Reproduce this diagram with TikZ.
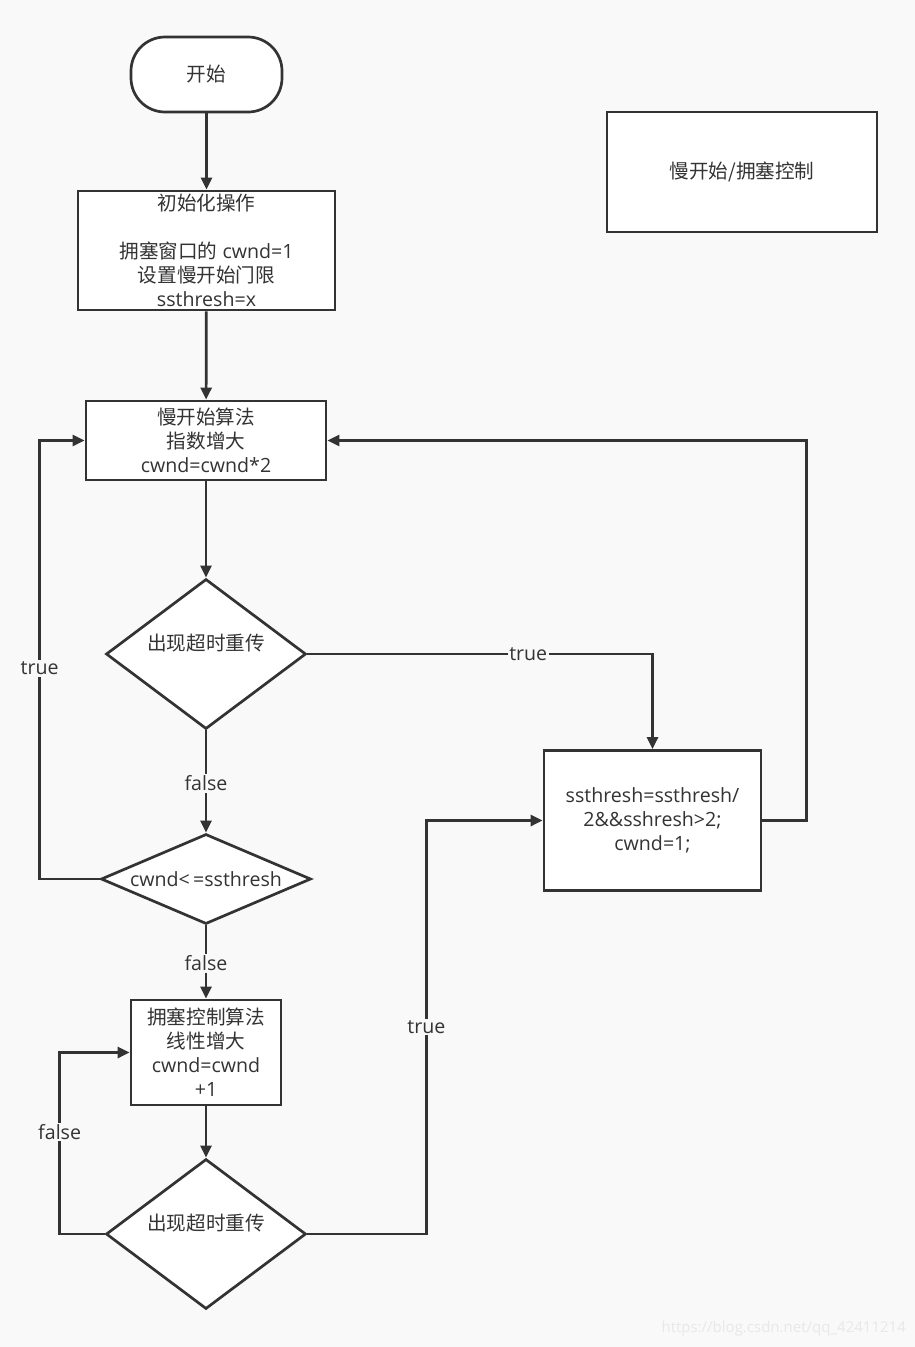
\documentclass[tikz,border=0pt]{standalone}
\usepackage{fontspec}
\setmainfont{Open Sans}
\newfontfamily\cjk{Noto Sans CJK SC}
\usetikzlibrary{arrows.meta,shapes.geometric}
\definecolor{ln}{HTML}{333333}
\definecolor{bg}{HTML}{F9F9F9}
\definecolor{wm}{HTML}{E8E8E8}
\newcommand{\zh}[1]{{\cjk #1}}
\newcommand{\up}[1]{\raisebox{9pt}[0.8em][0.25em]{#1}}
\tikzset{
  base/.style={draw=ln, line width=2.7pt, fill=white, text=ln, inner sep=0pt, align=center,
    font=\fontsize{19.6}{24}\selectfont},
  boxx/.style={base, rectangle},
  dia/.style={base, diamond},
  arr/.style={draw=ln, line width=2.7pt, -{Triangle[length=12pt,width=11pt]}},
  lbl/.style={fill=bg, text=ln, inner sep=1.5pt, font=\fontsize{19.6}{24}\selectfont},
}
\begin{document}
\begin{tikzpicture}[x=1pt,y=-1pt]
\fill[bg] (0,0) rectangle (915,1347);
\useasboundingbox (0,0) rectangle (915,1347);

\node[boxx, rounded corners=34pt, minimum width=151pt, minimum height=75pt] (start) at (206.5,74.5) {\zh{开始}};
\node[boxx, minimum width=257pt, minimum height=119pt] (init) at (206.5,250.5)
  {\zh{初始化操作}\\[24pt]\zh{拥塞窗口的} cwnd=1\\\zh{设置慢开始门限}\\ssthresh=x};
\node[boxx, minimum width=240pt, minimum height=79pt] (slow) at (206,440.5)
  {\zh{慢开始算法}\\\zh{指数增大}\\cwnd=cwnd*2};
\node[dia, aspect=1.333, minimum width=200pt, minimum height=150pt] (d1) at (206,654) {\up{\zh{出现超时重传}}};
\node[dia, aspect=2.33, minimum width=210pt, minimum height=90pt] (d2) at (206,879) {cwnd<\,=ssthresh};
\node[boxx, minimum width=150pt, minimum height=105pt] (cong) at (206,1052.5)
  {\zh{拥塞控制算法}\\\zh{线性增大}\\cwnd=cwnd\\+1};
\node[dia, aspect=1.333, minimum width=200pt, minimum height=150pt] (d3) at (206,1234) {\up{\zh{出现超时重传}}};
\node[boxx, minimum width=217pt, minimum height=140pt] (reset) at (652.5,820.5)
  {ssthresh=ssthresh/\\2\&\&sshresh>2;\\cwnd=1;};
\node[boxx, minimum width=270pt, minimum height=120pt] (title) at (742,172) {\zh{慢开始/拥塞控制}};

\node[anchor=east, text=wm, inner sep=0pt, font=\fontsize{15}{20}\selectfont] (wmark) at (906,1329) {https://blog.csdn.net/qq\_42411214};

\draw[arr] (start) -- (init);
\draw[arr] (init) -- (slow);
\draw[arr] (slow) -- (d1);
\draw[arr] (d1.east) -| node[lbl, pos=0.32]{true} (reset.north);
\draw[arr] (d1) -- node[lbl, pos=0.52]{false} (d2);
\draw[arr] (d2.west) -- ++(-60,0) |- node[lbl, pos=0.24]{true} (slow.west);
\draw[arr] (d2) -- node[lbl, pos=0.52]{false} (cong);
\draw[arr] (cong) -- (d3);
\draw[arr] (d3.west) -- ++(-45,0) |- node[lbl, pos=0.28]{false} (cong.west);
\draw[arr] (d3.east) -- ++(119,0) |- node[lbl, pos=0.25]{true} (reset.west);
\draw[arr] (reset.east) -- ++(44,0) |- (slow.east);
\end{tikzpicture}
\end{document}
